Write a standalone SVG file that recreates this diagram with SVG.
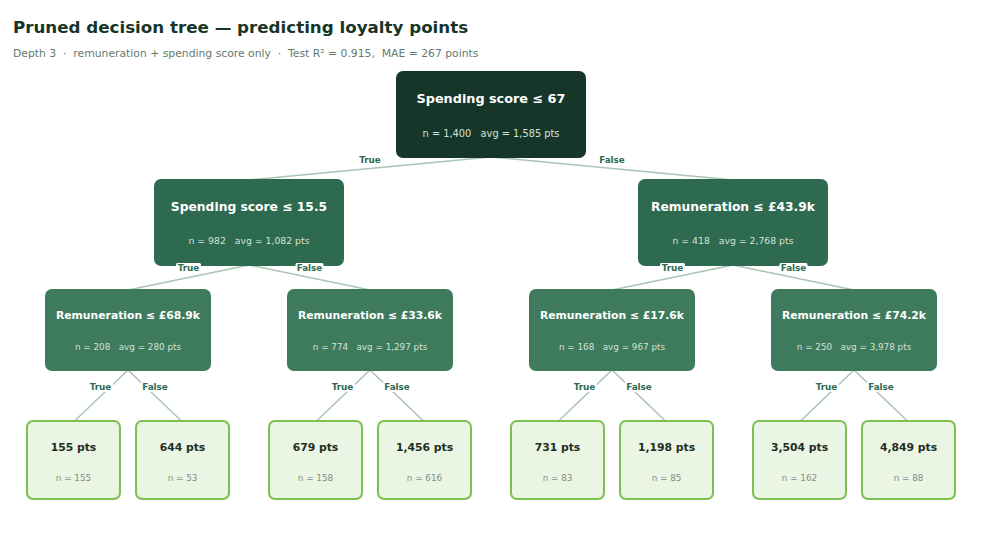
<svg xmlns="http://www.w3.org/2000/svg" width="982" height="558" viewBox="0 0 982 558">
<style>
text{font-family:"DejaVu Sans","Verdana",sans-serif;white-space:pre}
.title{font-size:16.7px;font-weight:bold;fill:#163528}
.sub{font-size:10.8px;fill:#5f7b6e}
.n0{fill:#17362a}
.n1{fill:#2d6a50}
.n2{fill:#3e7a5c}
.leaf{fill:#eaf5e3;stroke:#7cc150;stroke-width:2}
.h{font-weight:bold;fill:#ffffff;text-anchor:middle}
.s{fill:#d3e3d9;text-anchor:middle}
.lv{font-size:10.8px;font-weight:bold;fill:#1e2d24;text-anchor:middle}
.ln{font-size:8.8px;fill:#7f8f85;text-anchor:middle}
.edge{stroke:#a9c4b4;stroke-width:1.5;fill:none}
.lbg{fill:#ffffff}
.lt{font-size:8.8px;font-weight:bold;fill:#2d6a50;text-anchor:middle}
</style>
<rect width="982" height="558" fill="#ffffff"/>
<text class="title" x="13" y="33">Pruned decision tree — predicting loyalty points</text>
<text class="sub" x="13" y="57">Depth 3  ·  remuneration + spending score only  ·  Test R² = 0.915,  MAE = 267 points</text>
<g id="connectors">
<line class="edge" x1="491" y1="157" x2="249" y2="180"/>
<line class="edge" x1="491" y1="157" x2="733" y2="180"/>
<line class="edge" x1="249" y1="265" x2="128" y2="290"/>
<line class="edge" x1="249" y1="265" x2="370" y2="290"/>
<line class="edge" x1="733" y1="265" x2="612" y2="290"/>
<line class="edge" x1="733" y1="265" x2="854" y2="290"/>
<line class="edge" x1="128" y1="370" x2="73.5" y2="422"/>
<line class="edge" x1="128" y1="370" x2="182.5" y2="422"/>
<line class="edge" x1="370" y1="370" x2="315.5" y2="422"/>
<line class="edge" x1="370" y1="370" x2="424.5" y2="422"/>
<line class="edge" x1="612" y1="370" x2="557.5" y2="422"/>
<line class="edge" x1="612" y1="370" x2="666.5" y2="422"/>
<line class="edge" x1="854" y1="370" x2="799.5" y2="422"/>
<line class="edge" x1="854" y1="370" x2="908.5" y2="422"/>
</g>
<g id="root">
<rect class="n0" x="396" y="71" width="190" height="87" rx="7"/>
<text class="h" x="491" y="103" font-size="12.8">Spending score ≤ 67</text>
<text class="s" x="491" y="137" font-size="9.8">n = 1,400   avg = 1,585 pts</text>
</g>
<g id="n-left">
<rect class="n1" x="154" y="179" width="190" height="87" rx="7"/>
<text class="h" x="249" y="211" font-size="12.3">Spending score ≤ 15.5</text>
<text class="s" x="249" y="244" font-size="9.3">n = 982   avg = 1,082 pts</text>
</g>
<g id="n-right">
<rect class="n1" x="638" y="179" width="190" height="87" rx="7"/>
<text class="h" x="733" y="211" font-size="12.3">Remuneration ≤ £43.9k</text>
<text class="s" x="733" y="244" font-size="9.3">n = 418   avg = 2,768 pts</text>
</g>
<g id="n-ll">
<rect class="n2" x="45" y="289" width="166" height="82" rx="7"/>
<text class="h" x="128" y="319" font-size="10.8">Remuneration ≤ £68.9k</text>
<text class="s" x="128" y="350" font-size="8.8">n = 208   avg = 280 pts</text>
</g>
<g id="n-lr">
<rect class="n2" x="287" y="289" width="166" height="82" rx="7"/>
<text class="h" x="370" y="319" font-size="10.8">Remuneration ≤ £33.6k</text>
<text class="s" x="370" y="350" font-size="8.8">n = 774   avg = 1,297 pts</text>
</g>
<g id="n-rl">
<rect class="n2" x="529" y="289" width="166" height="82" rx="7"/>
<text class="h" x="612" y="319" font-size="10.8">Remuneration ≤ £17.6k</text>
<text class="s" x="612" y="350" font-size="8.8">n = 168   avg = 967 pts</text>
</g>
<g id="n-rr">
<rect class="n2" x="771" y="289" width="166" height="82" rx="7"/>
<text class="h" x="854" y="319" font-size="10.8">Remuneration ≤ £74.2k</text>
<text class="s" x="854" y="350" font-size="8.8">n = 250   avg = 3,978 pts</text>
</g>
<g id="leaf1"><rect class="leaf" x="27" y="421" width="93" height="78" rx="6"/><text class="lv" x="73.5" y="451">155 pts</text><text class="ln" x="73.5" y="481">n = 155</text></g>
<g id="leaf2"><rect class="leaf" x="136" y="421" width="93" height="78" rx="6"/><text class="lv" x="182.5" y="451">644 pts</text><text class="ln" x="182.5" y="481">n = 53</text></g>
<g id="leaf3"><rect class="leaf" x="269" y="421" width="93" height="78" rx="6"/><text class="lv" x="315.5" y="451">679 pts</text><text class="ln" x="315.5" y="481">n = 158</text></g>
<g id="leaf4"><rect class="leaf" x="378" y="421" width="93" height="78" rx="6"/><text class="lv" x="424.5" y="451">1,456 pts</text><text class="ln" x="424.5" y="481">n = 616</text></g>
<g id="leaf5"><rect class="leaf" x="511" y="421" width="93" height="78" rx="6"/><text class="lv" x="557.5" y="451">731 pts</text><text class="ln" x="557.5" y="481">n = 83</text></g>
<g id="leaf6"><rect class="leaf" x="620" y="421" width="93" height="78" rx="6"/><text class="lv" x="666.5" y="451">1,198 pts</text><text class="ln" x="666.5" y="481">n = 85</text></g>
<g id="leaf7"><rect class="leaf" x="753" y="421" width="93" height="78" rx="6"/><text class="lv" x="799.5" y="451">3,504 pts</text><text class="ln" x="799.5" y="481">n = 162</text></g>
<g id="leaf8"><rect class="leaf" x="862" y="421" width="93" height="78" rx="6"/><text class="lv" x="908.5" y="451">4,849 pts</text><text class="ln" x="908.5" y="481">n = 88</text></g>
<g id="edge-labels">
<rect class="lbg" x="357" y="154" width="26" height="11" rx="2"/><text class="lt" x="370" y="162.5">True</text>
<rect class="lbg" x="597" y="154" width="30" height="11" rx="2"/><text class="lt" x="612" y="162.5">False</text>
<rect class="lbg" x="176" y="263" width="25" height="10" rx="1.5"/><text class="lt" x="188.5" y="271.3">True</text>
<rect class="lbg" x="295.5" y="263" width="28" height="10" rx="1.5"/><text class="lt" x="309.5" y="271.3">False</text>
<rect class="lbg" x="660" y="263" width="25" height="10" rx="1.5"/><text class="lt" x="672.5" y="271.3">True</text>
<rect class="lbg" x="779.5" y="263" width="28" height="10" rx="1.5"/><text class="lt" x="793.5" y="271.3">False</text>
<rect class="lbg" x="88" y="381" width="25" height="11" rx="2"/><text class="lt" x="100.5" y="390">True</text>
<rect class="lbg" x="141" y="381" width="28" height="11" rx="2"/><text class="lt" x="155" y="390">False</text>
<rect class="lbg" x="330" y="381" width="25" height="11" rx="2"/><text class="lt" x="342.5" y="390">True</text>
<rect class="lbg" x="383" y="381" width="28" height="11" rx="2"/><text class="lt" x="397" y="390">False</text>
<rect class="lbg" x="572" y="381" width="25" height="11" rx="2"/><text class="lt" x="584.5" y="390">True</text>
<rect class="lbg" x="625" y="381" width="28" height="11" rx="2"/><text class="lt" x="639" y="390">False</text>
<rect class="lbg" x="814" y="381" width="25" height="11" rx="2"/><text class="lt" x="826.5" y="390">True</text>
<rect class="lbg" x="867" y="381" width="28" height="11" rx="2"/><text class="lt" x="881" y="390">False</text>
</g>
</svg>
